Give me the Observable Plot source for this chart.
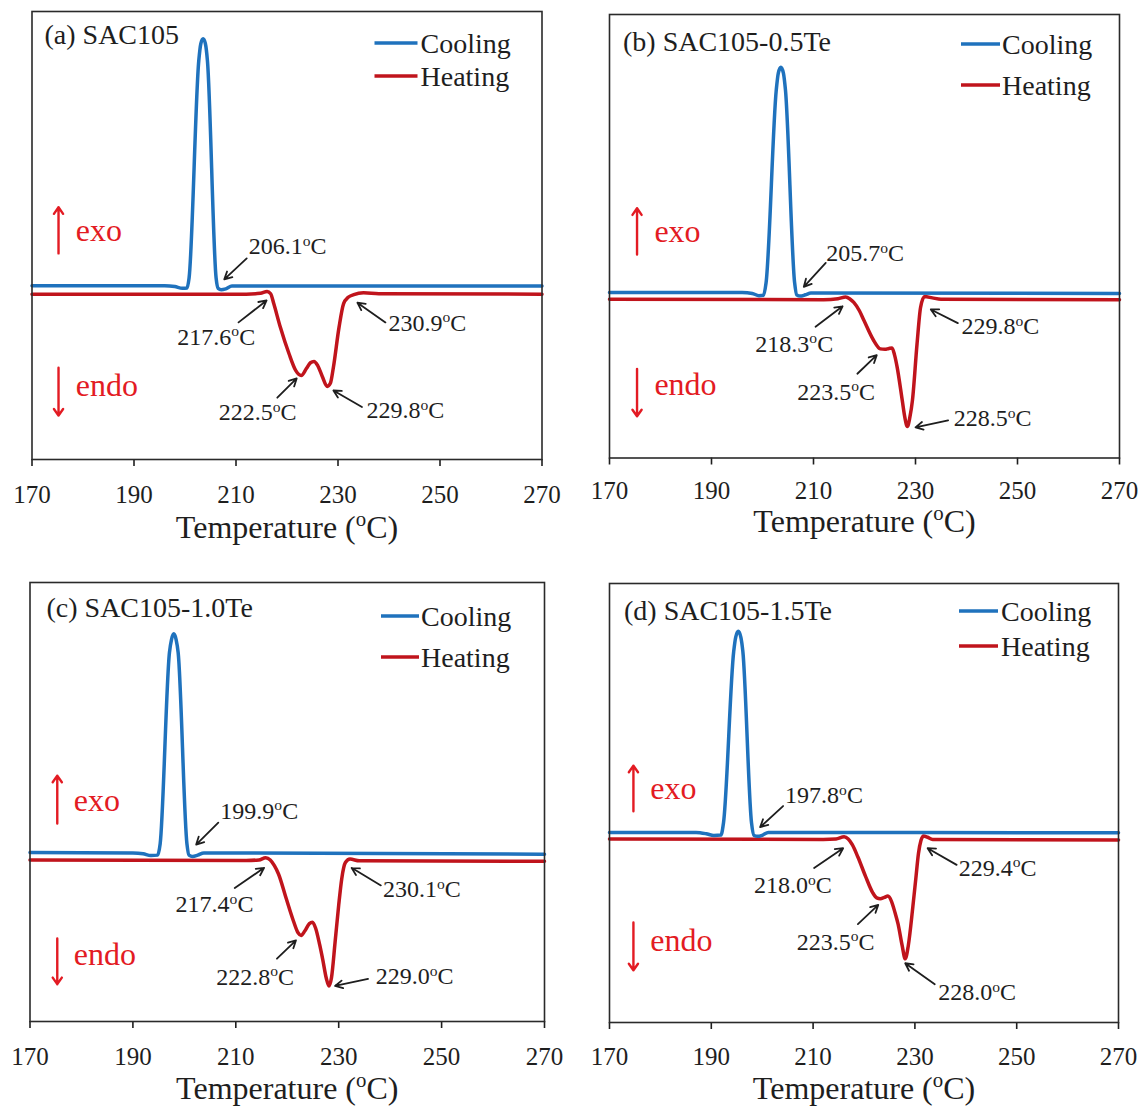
<!DOCTYPE html>
<html><head><meta charset="utf-8">
<script src="https://cdn.jsdelivr.net/npm/d3@7"></script>
<script src="https://cdn.jsdelivr.net/npm/@observablehq/plot@0.6"></script>
<style>
body{margin:0;background:#fff}
#fig{position:relative;width:1146px;height:1106px;background:#fff}
#fig svg{position:absolute}
</style>
</head><body><div id="fig"></div>
<script>
// ---------------- data ----------------
const panels = ["(a) SAC105", "(b) SAC105-0.5Te", "(c) SAC105-1.0Te", "(d) SAC105-1.5Te"];
const seriesNames = ["Cooling", "Heating"];
const xTicks = [170, 190, 210, 230, 250, 270];
const axisTitle = "Temperature (oC)";

// DSC signal in arbitrary units (0 = bottom of frame, 100 = top)
const coolingA = [[170,38.8],[196,38.8],[198,38.6],[199.5,38.2],[200.4,38.3],[200.8,40.5],[202.7,89],[203.1,92.8],[203.55,93.9],[204.0,92.8],[204.4,89],[206.1,40.5],[206.5,38.2],[207.1,37.9],[208.0,38.1],[209.2,38.7],[270,38.7]];
const heatingA = [[170,36.9],[212,36.9],[214.8,37.1],[216.1,37.5],[216.8,37.0],[217.4,34.8],[218.7,29.5],[220.4,23.6],[221.7,19.9],[222.8,18.75],[223.8,20.3],[224.6,21.6],[225.3,21.9],[226.0,21.0],[226.9,18.6],[227.9,16.3],[228.5,17.0],[229.1,20.6],[230.2,29.5],[231.1,34.8],[232.0,36.2],[233.1,36.8],[235,37.2],[238,37.0],[270,36.9]];

const coolingB = [[170,37.3],[196,37.3],[198,37.1],[199.3,36.6],[200.2,36.7],[200.7,39.5],[202.7,83],[203.1,86.8],[203.6,88.1],[204.1,86.8],[204.5,83],[206.3,39.5],[206.7,36.8],[207.4,36.5],[208.4,36.8],[209.5,37.2],[270,37.1]];
const heatingB = [[170,35.8],[212,35.7],[214.8,35.9],[216.3,36.3],[217.2,35.8],[217.9,35.1],[219.0,33.2],[219.9,31.0],[221.8,26.5],[223.1,24.6],[224.0,24.5],[224.8,24.7],[225.4,24.8],[225.9,23.2],[226.4,20.5],[227.4,13.0],[227.9,9.2],[228.4,7.1],[228.9,9.2],[229.4,13.0],[230.3,25.7],[231.0,34.0],[231.8,36.4],[233.3,36.1],[235,35.8],[270,35.7]];

const coolingC = [[170,38.5],[190,38.4],[192,38.2],[193.5,37.8],[194.8,37.9],[195.3,40.5],[197.1,84],[197.5,87],[197.95,88.3],[198.4,87],[198.8,84],[200.5,40.5],[200.9,37.9],[201.6,37.6],[202.6,37.9],[203.8,38.4],[270,38.1]];
const heatingC = [[170,36.8],[212,36.7],[214.5,36.8],[215.8,37.3],[216.7,36.8],[217.5,35.5],[218.3,33.6],[219.8,28],[221.2,22.9],[222.1,20.2],[222.7,19.6],[223.4,20.6],[224.3,22.3],[224.9,22.6],[225.5,21.3],[226.3,17.5],[226.9,14.1],[227.6,9.8],[228.1,8.1],[228.6,10],[229.3,18.1],[230.0,26.5],[230.6,32.6],[231.3,36.2],[232.2,37.0],[234,36.6],[270,36.5]];

const coolingD = [[170,43.3],[187,43.3],[189,43.0],[190.5,42.6],[191.9,42.7],[192.4,45.5],[194.4,84.5],[194.8,87.8],[195.3,89.1],[195.8,87.8],[196.2,84.5],[197.9,45.5],[198.4,42.6],[199.1,42.4],[200.1,42.7],[201.2,43.3],[270,43.2]];
const heatingD = [[170,41.8],[212,41.7],[214.5,41.8],[216.1,42.3],[216.9,41.8],[217.7,40.5],[218.8,37.7],[220.3,33.3],[221.7,29.6],[222.5,28.4],[223.2,28.2],[224.0,28.5],[224.7,28.8],[225.4,27.6],[226.1,25],[226.7,22.4],[227.5,17.5],[228.1,14.5],[228.7,17.5],[229.6,26.4],[230.2,33],[230.7,38.5],[231.2,41.5],[231.7,42.5],[232.5,42.2],[233.5,41.7],[270,41.6]];

// callouts: label value, text anchor (tx,ty), arrow tail (x1,y1) -> tip (x2,y2), data units
const calloutsA = [
  {label:206.1, tx:212.5, ty:47.5, x1:212.1, y1:44.9, x2:207.7, y2:40.2},
  {label:217.6, tx:198.5, ty:27.3, x1:210.5, y1:30.6, x2:216.0, y2:35.5},
  {label:230.9, tx:239.9, ty:30.4, x1:239.3, y1:30.6, x2:233.8, y2:35.0},
  {label:222.5, tx:206.6, ty:10.5, x1:218.1, y1:13.8, x2:221.9, y2:18.1},
  {label:229.8, tx:235.6, ty:10.9, x1:234.7, y1:11.7, x2:229.1, y2:15.4}
];
const calloutsB = [
  {label:205.7, tx:212.5, ty:46.1, x1:212.4, y1:44.0, x2:208.1, y2:38.6},
  {label:218.3, tx:198.6, ty:25.7, x1:210.4, y1:29.6, x2:215.7, y2:34.2},
  {label:229.8, tx:239.0, ty:29.6, x1:238.3, y1:30.4, x2:233.0, y2:33.5},
  {label:223.5, tx:206.8, ty:14.8, x1:218.6, y1:19.0, x2:222.4, y2:23.2},
  {label:228.5, tx:237.5, ty:8.9, x1:236.4, y1:8.5, x2:230.0, y2:6.9}
];
const calloutsC = [
  {label:199.9, tx:207.0, ty:47.9, x1:206.6, y1:45.3, x2:202.3, y2:40.3},
  {label:217.4, tx:198.3, ty:26.6, x1:209.8, y1:30.4, x2:215.5, y2:35.0},
  {label:230.1, tx:238.6, ty:30.0, x1:238.2, y1:31.0, x2:232.5, y2:35.0},
  {label:222.8, tx:206.2, ty:10.1, x1:218.0, y1:14.3, x2:221.7, y2:18.5},
  {label:229.0, tx:237.2, ty:10.2, x1:235.7, y1:9.7, x2:229.3, y2:8.1}
];
const calloutsD = [
  {label:197.8, tx:204.5, ty:51.7, x1:204.1, y1:49.3, x2:199.6, y2:44.5},
  {label:218.0, tx:198.4, ty:31.2, x1:210.2, y1:35.2, x2:215.9, y2:39.7},
  {label:229.4, tx:238.6, ty:35.2, x1:238.2, y1:35.9, x2:232.5, y2:39.7},
  {label:223.5, tx:206.8, ty:18.3, x1:218.8, y1:22.4, x2:222.8, y2:26.8},
  {label:228.0, tx:234.6, ty:6.8, x1:233.9, y1:8.7, x2:228.1, y2:13.5}
];

// exo / endo direction markers
const directionA = [{label:"exo", x:175.2, y1:46.0, y2:56.3, tx:178.6, ty:51.1},{label:"endo", x:175.2, y1:20.5, y2:9.8, tx:178.6, ty:16.5}];
const directionB = [{label:"exo", x:175.4, y1:45.9, y2:56.3, tx:178.8, ty:51.1},{label:"endo", x:175.4, y1:20.1, y2:9.4, tx:178.8, ty:16.5}];
const directionC = [{label:"exo", x:175.3, y1:45.1, y2:56.0, tx:178.5, ty:50.3},{label:"endo", x:175.3, y1:18.9, y2:8.5, tx:178.5, ty:15.3}];
const directionD = [{label:"exo", x:174.7, y1:48.1, y2:58.5, tx:178.0, ty:53.3},{label:"endo", x:174.7, y1:22.8, y2:11.9, tx:178.0, ty:18.7}];

// ---------------- styling / layout ----------------
const BLUE = "#1f72bd", RED = "#c0141c", DIR = "#e31b23", INK = "#1e1e1e";
const FONT = "'Liberation Serif', 'Times New Roman', serif";

const layout = [
  {left:0,   top:0,   mt:11, mb:94,   ml:31.5, mr:31.5, pad:18.5, labelDx:12.5, labelDy:24, lg:{x1:-167,x2:-124,tx:-121,y1:32,y2:65}, titleDy:68},
  {left:573, top:0,   mt:14, mb:95.5, ml:36,   mr:27,   pad:16,   labelDx:13.5, labelDy:28, lg:{x1:-158,x2:-119,tx:-117,y1:30,y2:71}, titleDy:63.5},
  {left:0,   top:553, mt:29, mb:85,   ml:29.5, mr:29,   pad:18.5, labelDx:16.5, labelDy:26, lg:{x1:-163,x2:-125,tx:-123,y1:34,y2:75}, titleDy:67},
  {left:573, top:553, mt:30, mb:84,   ml:36,   mr:28,   pad:17.5, labelDx:14.5, labelDy:28, lg:{x1:-159,x2:-120,tx:-117,y1:28,y2:63}, titleDy:66}
];

const toPts = arr => arr.map(([t, v]) => ({t, v}));
const data = [
  {cool: coolingA, heat: heatingA, call: calloutsA, dir: directionA},
  {cool: coolingB, heat: heatingB, call: calloutsB, dir: directionB},
  {cool: coolingC, heat: heatingC, call: calloutsC, dir: directionC},
  {cool: coolingD, heat: heatingD, call: calloutsD, dir: directionD}
];

function legendMark(cfg) {
  return (index, scales, values, dims) => {
    const g = d3.create("svg:g");
    const right = dims.width - dims.marginRight;
    const colors = [BLUE, RED];
    seriesNames.forEach((name, i) => {
      const y = dims.marginTop + (i === 0 ? cfg.y1 : cfg.y2);
      g.append("line").attr("x1", right + cfg.x1).attr("x2", right + cfg.x2)
        .attr("y1", y).attr("y2", y).attr("stroke", colors[i]).attr("stroke-width", 3.5);
      g.append("text").attr("x", right + cfg.tx).attr("y", y).attr("dy", "0.34em")
        .attr("text-anchor", "start")
        .attr("font-size", 28).attr("fill", INK).attr("font-family", FONT).text(name);
    });
    return g.node();
  };
}

function supify(svg) {
  const NS = "http://www.w3.org/2000/svg";
  svg.querySelectorAll("text").forEach(t => {
    if (t.children.length) return;
    const s = t.textContent;
    const i = s.indexOf("oC");
    if (i < 0) return;
    t.textContent = "";
    t.appendChild(document.createTextNode(s.slice(0, i)));
    const sup = document.createElementNS(NS, "tspan");
    sup.setAttribute("font-size", "0.65em");
    sup.setAttribute("dy", "-0.55em");
    sup.textContent = "o";
    t.appendChild(sup);
    const rest = document.createElementNS(NS, "tspan");
    rest.setAttribute("dy", "0.3575em");
    rest.textContent = s.slice(i + 1);
    t.appendChild(rest);
  });
}

const fig = document.getElementById("fig");
layout.forEach((L, k) => {
  const D = data[k];
  const svg = Plot.plot({
    width: 573, height: 553,
    marginTop: L.mt, marginBottom: L.mb, marginLeft: L.ml, marginRight: L.mr,
    x: {domain: [170, 270]},
    y: {domain: [0, 100], axis: null},
    style: {fontFamily: FONT, color: INK, background: "#fff", overflow: "visible"},
    marks: [
      Plot.axisX({ticks: xTicks, tickSize: 7, tickPadding: L.pad, fontSize: 25, fontFamily: FONT, label: null, tickFormat: d => String(d), strokeWidth: 1.6}),
      Plot.line(toPts(D.heat), {x: "t", y: "v", stroke: RED, strokeWidth: 3.5, curve: "monotone-x"}),
      Plot.line(toPts(D.cool), {x: "t", y: "v", stroke: BLUE, strokeWidth: 3.5, curve: "monotone-x"}),
      Plot.frame({stroke: "#2a2a2a", strokeWidth: 1.6}),
      Plot.arrow(D.dir, {x1: "x", x2: "x", y1: "y1", y2: "y2", stroke: DIR, strokeWidth: 2.4, headLength: 5, headAngle: 70}),
      Plot.text(D.dir, {x: "tx", y: "ty", text: "label", fill: DIR, fontSize: 32, textAnchor: "start", lineAnchor: "middle"}),
      Plot.arrow(D.call, {x1: "x1", y1: "y1", x2: "x2", y2: "y2", stroke: INK, strokeWidth: 1.8, headLength: 7, headAngle: 55}),
      Plot.text(D.call, {x: "tx", y: "ty", text: d => d.label.toFixed(1) + "oC", fill: INK, fontSize: 24, textAnchor: "start", lineAnchor: "middle"}),
      Plot.text([panels[k]], {text: d => d, frameAnchor: "top-left", dx: L.labelDx, dy: L.labelDy, fontSize: 28, fill: INK, textAnchor: "start", lineAnchor: "middle"}),
      Plot.text([axisTitle], {text: d => d, frameAnchor: "bottom", dy: L.titleDy, fontSize: 32, fill: INK, lineAnchor: "middle"}),
      legendMark(L.lg)
    ]
  });
  supify(svg);
  svg.style.left = L.left + "px";
  svg.style.top = L.top + "px";
  fig.appendChild(svg);
});
</script>
</body></html>
